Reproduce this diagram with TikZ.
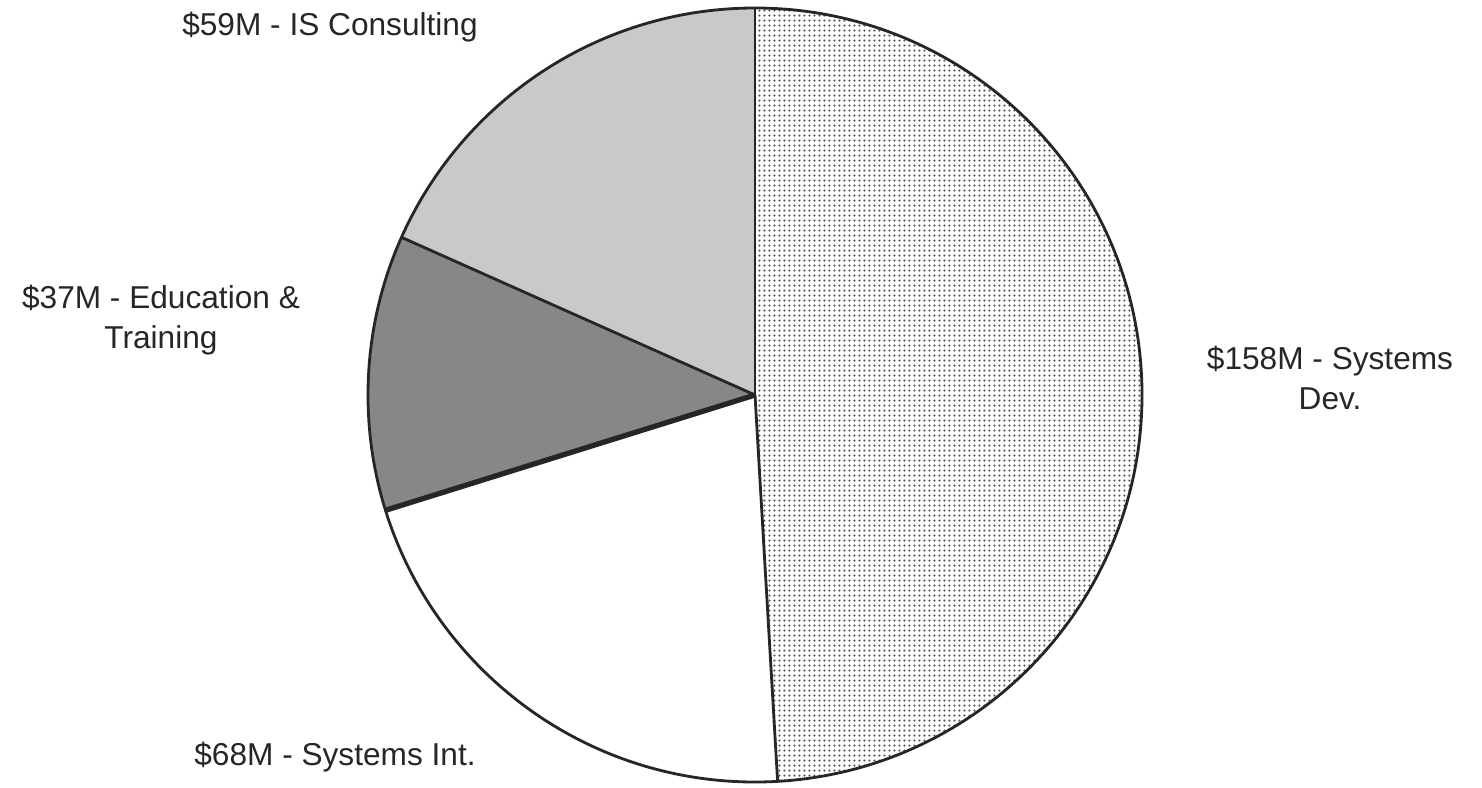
\documentclass[tikz,border=0pt]{standalone}
\usepackage{fontspec}
\setmainfont{Liberation Sans}
\usetikzlibrary{patterns.meta}
\tikzdeclarepattern{name=devdots, type=uncolored,
  bounding box={(0,0) and (1.4pt,1.4pt)}, tile size={(1.4pt,1.4pt)},
  code={\fill (0.7pt,0.7pt) circle (0.36pt);}}
\tikzset{
  slice/.style={line join=round},
  rim/.style={draw=black!85, line width=0.8pt},
  lbl/.style={font=\fontsize{9}{11.4}\selectfont, align=center, text=black!85},
}

\begin{document}
\begin{tikzpicture}
    \useasboundingbox (0,0) rectangle (14.82,7.87);
    \coordinate (c) at (7.55,3.92);
    % Slices (start/end angle, fill)
    \fill[slice, pattern={devdots}, pattern color=black!65] (c) -- ++(90:3.87) arc[start angle=90, end angle=-86.65, radius=3.87] -- cycle;
    \fill[slice, white] (c) -- ++(-86.65:3.87) arc[start angle=-86.65, end angle=-162.67, radius=3.87] -- cycle;
    \fill[slice, black!47] (c) -- ++(-162.67:3.87) arc[start angle=-162.67, end angle=-204.04, radius=3.87] -- cycle;
    \fill[slice, black!21] (c) -- ++(155.96:3.87) arc[start angle=155.96, end angle=90, radius=3.87] -- cycle;
    % Outlines
    \draw[rim] (c) circle (3.87);
    \foreach \a in {90,-86.65,155.96} {
        \draw[rim] (c) -- ++(\a:3.87);
    }
    \draw[rim, line width=1.5pt] (c) -- ++(-162.67:3.87);
    % Labels
    \node[lbl] (isc) at (3.30,7.60) {\$59M - IS Consulting};
    \node[lbl] (edu) at (1.61,4.67) {\$37M - Education \&\\Training};
    \node[lbl] (dev) at (13.30,4.09) {\$158M - Systems\\Dev.};
    \node[lbl] (int) at (3.35,0.30) {\$68M - Systems Int.};
\end{tikzpicture}
\end{document}
